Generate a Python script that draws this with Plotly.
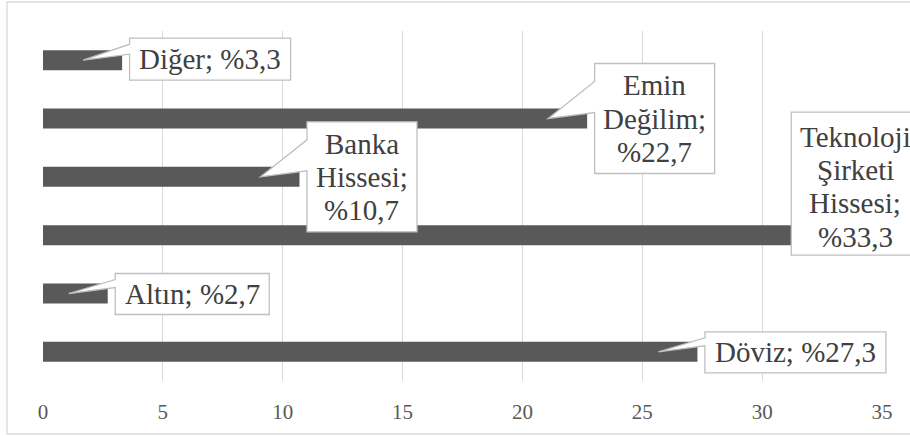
import plotly.graph_objects as go

# ---------------- data ----------------
categories = ["Döviz", "Altın", "Teknoloji Şirketi Hissesi",
              "Banka Hissesi", "Emin Değilim", "Diğer"]
values = [27.3, 2.7, 33.3, 10.7, 22.7, 3.3]
x_ticks = [0, 5, 10, 15, 20, 25, 30, 35]
X_MAX = 35

# ---------------- style ----------------
FONT = "Liberation Serif"
BAR_COLOR = "#595959"
GRID_COLOR = "#d9d9d9"
TEXT_COLOR = "#404040"
TICK_COLOR = "#595959"
BOX_LINE = "#bfbfbf"
LABEL_SIZE = 29
LINE_STEP = 33.3

wrap = [False, False, True, True, True, False]
# callout geometry in pixels relative to the bar end (x right, y up)
callouts = [
    dict(left=7.5, width=181, top=20, bottom=-21, wedge=True),
    dict(left=7.5, width=154, top=20, bottom=-21, wedge=True),
    dict(left=-50, width=128, top=123, bottom=-20, wedge=False),
    dict(left=7.5, width=110, top=55, bottom=-55, wedge=True),
    dict(left=7.5, width=120, top=55, bottom=-55, wedge=True),
    dict(left=7.5, width=161, top=22, bottom=-20, wedge=True),
]
TIP_X = -39


def label_lines(cat, val, multi):
    pct = "%" + f"{val:.1f}".replace(".", ",")
    if multi:
        words = cat.split()
        words[-1] = words[-1] + ";"
        return words + [pct]
    return [f"{cat}; {pct}"]


fig = go.Figure()
fig.add_trace(go.Bar(
    x=values, y=categories, orientation="h",
    marker=dict(color=BAR_COLOR, line=dict(width=0)),
))

shapes = []
annotations = []
for cat, val, multi, c in zip(categories, values, wrap, callouts):
    L = c["left"]
    R = L + c["width"]
    T = c["top"]
    B = c["bottom"]
    if c["wedge"]:
        up = min(T - 6, 37)
        lo = 6
        path = (f"M{TIP_X},0 L{L},{up} L{L},{T} L{R},{T} L{R},{B} "
                f"L{L},{B} L{L},{lo} Z")
    else:
        path = f"M{L},{T} L{R},{T} L{R},{B} L{L},{B} Z"
    shapes.append(dict(
        type="path", xref="paper", yref="y",
        xsizemode="pixel", ysizemode="pixel",
        xanchor=val / X_MAX, yanchor=cat,
        path=path, fillcolor="white",
        line=dict(color=BOX_LINE, width=1.3), layer="above",
    ))
    lines = label_lines(cat, val, multi)
    n = len(lines)
    cy = (T + B) / 2 - (3 if not c["wedge"] else 0)
    cx = (L + R) / 2
    for k, txt in enumerate(lines):
        annotations.append(dict(
            x=val, y=cat, xref="x", yref="y",
            text=txt, showarrow=False,
            xanchor="center", yanchor="middle",
            xshift=cx, yshift=cy + ((n - 1) / 2 - k) * LINE_STEP,
            font=dict(family=FONT, size=LABEL_SIZE, color=TEXT_COLOR),
        ))

# outer chart border
shapes.append(dict(
    type="rect", xref="paper", yref="paper",
    xsizemode="pixel", ysizemode="pixel", xanchor=0, yanchor=0,
    x0=-36, x1=875, y0=-53, y1=379,
    line=dict(color=GRID_COLOR, width=1.3), fillcolor="rgba(0,0,0,0)",
    layer="below",
))

fig.update_layout(
    width=910, height=436,
    margin=dict(l=43, r=28, t=31, b=55),
    paper_bgcolor="white", plot_bgcolor="white",
    showlegend=False,
    bargap=0.657,
    font=dict(family=FONT, color=TICK_COLOR),
    shapes=shapes,
    annotations=annotations,
    xaxis=dict(
        range=[0, X_MAX], tickvals=x_ticks, ticktext=[str(t) for t in x_ticks],
        showgrid=True, gridcolor=GRID_COLOR, gridwidth=1,
        zeroline=False, showline=False,
        ticks="outside", ticklen=12, tickcolor="rgba(0,0,0,0)",
        tickfont=dict(family=FONT, size=21, color=TICK_COLOR),
    ),
    yaxis=dict(
        type="category", categoryorder="array", categoryarray=categories,
        showticklabels=False, showgrid=False, zeroline=False,
        showline=False, ticks="",
    ),
)

fig.write_html("out.html")
